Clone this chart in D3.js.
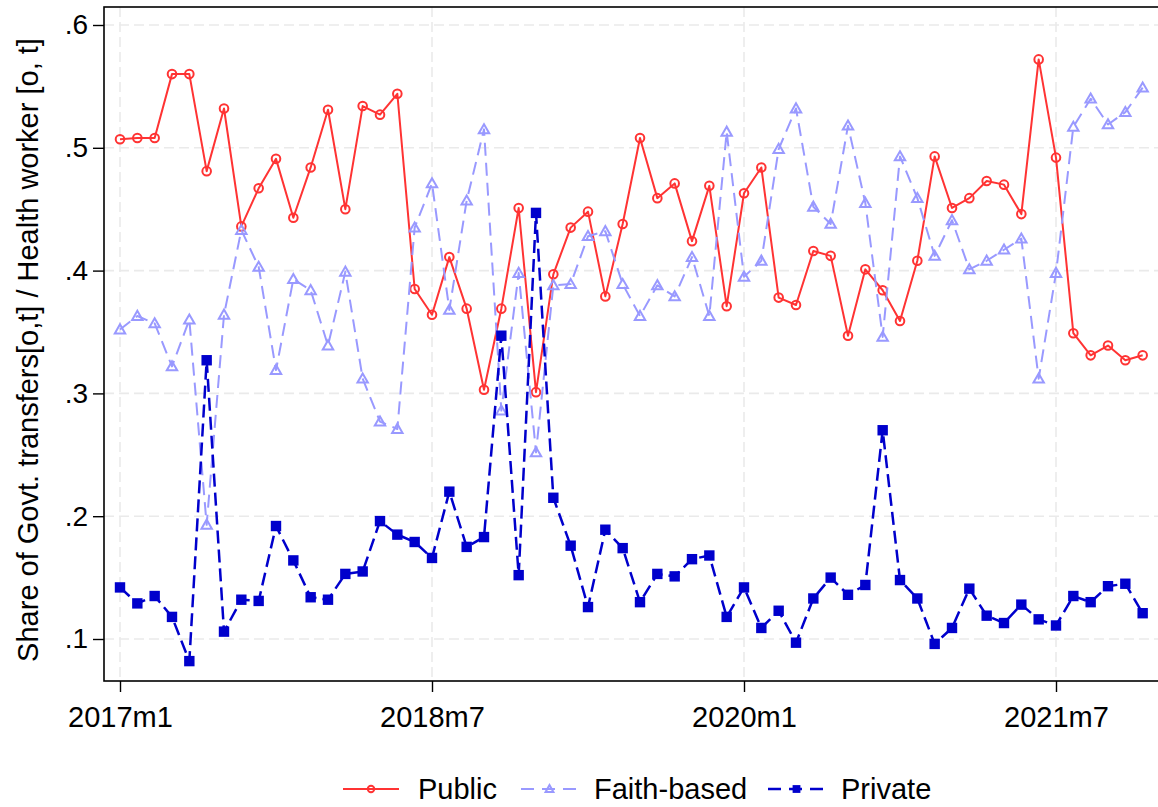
<!DOCTYPE html>
<html>
<head>
<meta charset="utf-8">
<script src="https://cdn.jsdelivr.net/npm/d3@7"></script>
<style>
  html, body { margin: 0; padding: 0; background: #fff; }
  svg { display: block; }
  text { font-family: "Liberation Sans", Arial, Helvetica, sans-serif; fill: #000; }
</style>
</head>
<body>
<svg id="chart" width="1158" height="807"></svg>
<script>
// ---- data ----
const monthIndex = d3.range(60); // 2017m1 .. 2021m12
const xTickIndex = [0, 18, 36, 54];
const xTickLabels = ["2017m1", "2018m7", "2020m1", "2021m7"];
const yTickValues = [0.1, 0.2, 0.3, 0.4, 0.5, 0.6];
const yTickLabels = [".1", ".2", ".3", ".4", ".5", ".6"];
const seriesNames = ["Public", "Faith-based", "Private"];

const publicVals = [0.507,0.508,0.508,0.560,0.560,0.481,0.532,0.436,0.467,0.491,
  0.443,0.484,0.531,0.450,0.534,0.527,0.544,0.385,0.364,0.411,
  0.369,0.303,0.369,0.451,0.301,0.397,0.435,0.448,0.379,0.438,
  0.508,0.459,0.471,0.424,0.469,0.371,0.463,0.484,0.378,0.372,
  0.416,0.412,0.347,0.401,0.384,0.359,0.408,0.493,0.451,0.459,
  0.473,0.470,0.446,0.572,0.492,0.349,0.331,0.339,0.327,0.331];

const faithVals = [0.352,0.363,0.357,0.322,0.360,0.193,0.364,0.433,0.403,0.319,
  0.393,0.384,0.339,0.399,0.312,0.277,0.271,0.435,0.471,0.368,
  0.457,0.515,0.286,0.398,0.252,0.388,0.389,0.428,0.432,0.389,
  0.363,0.388,0.379,0.411,0.363,0.513,0.395,0.408,0.499,0.532,
  0.452,0.438,0.518,0.455,0.346,0.493,0.459,0.412,0.441,0.401,
  0.408,0.417,0.426,0.312,0.398,0.517,0.540,0.519,0.529,0.549];

const privateVals = [0.142,0.129,0.135,0.118,0.082,0.327,0.106,0.132,0.131,0.192,
  0.164,0.134,0.132,0.153,0.155,0.196,0.185,0.179,0.166,0.220,
  0.175,0.183,0.347,0.152,0.447,0.215,0.176,0.126,0.189,0.174,
  0.130,0.153,0.151,0.165,0.168,0.118,0.142,0.109,0.123,0.097,
  0.133,0.150,0.136,0.144,0.270,0.148,0.133,0.096,0.109,0.141,
  0.119,0.113,0.128,0.116,0.111,0.135,0.130,0.143,0.145,0.121];

// ---- layout ----
const svg = d3.select("#chart");
const frame = { left: 104, top: 7, right: 1162, bottom: 681 };
const FONT = 29;
const YFONT = 28;

const x = d3.scaleLinear().domain([0, 18]).range([120, 432]);
const y = d3.scaleLinear().domain([0.1, 0.6]).range([639, 25]);

const styles = [
  { color: "#ff3333", dash: null, width: 2, marker: "circle" },
  { color: "#9999ff", dash: "13,7", width: 2, marker: "triangle" },
  { color: "#0000cc", dash: "13,6", width: 2.5, marker: "square" }
];
const allSeries = [publicVals, faithVals, privateVals];

// gridlines
const grid = svg.append("g");
grid.selectAll("line.hg").data(yTickValues).join("line")
  .attr("x1", frame.left).attr("x2", frame.right)
  .attr("y1", d => y(d)).attr("y2", d => y(d))
  .attr("stroke", "#eaeaea").attr("stroke-width", 1.6).attr("stroke-dasharray", "10,5");
grid.selectAll("line.vg").data(xTickIndex).join("line")
  .attr("y1", frame.top).attr("y2", frame.bottom)
  .attr("x1", d => x(d)).attr("x2", d => x(d))
  .attr("stroke", "#eaeaea").attr("stroke-width", 1.6).attr("stroke-dasharray", "10,5");

// frame
svg.append("rect")
  .attr("x", frame.left).attr("y", frame.top)
  .attr("width", frame.right - frame.left).attr("height", frame.bottom - frame.top)
  .attr("fill", "none").attr("stroke", "#000").attr("stroke-width", 1.6);

// axes
const yAxis = d3.axisLeft(y).tickValues(yTickValues)
  .tickFormat((d, i) => yTickLabels[i]).tickSize(11).tickPadding(5);
const gy = svg.append("g").attr("transform", `translate(${frame.left},0)`).call(yAxis);
gy.select(".domain").remove();
gy.selectAll(".tick line").attr("stroke", "#000").attr("stroke-width", 1.4);
gy.selectAll(".tick text").attr("font-size", YFONT).attr("font-family", "Liberation Sans, Arial, sans-serif").attr("fill", "#000");

const xAxis = d3.axisBottom(x).tickValues(xTickIndex)
  .tickFormat((d, i) => xTickLabels[i]).tickSize(11).tickPadding(14);
const gx = svg.append("g").attr("transform", `translate(0,${frame.bottom})`).call(xAxis);
gx.select(".domain").remove();
gx.selectAll(".tick line").attr("stroke", "#000").attr("stroke-width", 1.4);
gx.selectAll(".tick text").attr("font-size", FONT).attr("font-family", "Liberation Sans, Arial, sans-serif").attr("fill", "#000");

// y title
svg.append("text")
  .attr("transform", `translate(38,${(frame.top + frame.bottom) / 2 + 6}) rotate(-90)`)
  .attr("text-anchor", "middle")
  .attr("font-size", FONT)
  .text("Share of Govt. transfers[o,t] / Health worker [o, t]");

// marker drawer
function drawMarker(g, type, color, cx, cy, scale = 1) {
  if (type === "circle") {
    g.append("circle").attr("cx", cx).attr("cy", cy).attr("r", 4.3 * scale)
      .attr("fill", "none").attr("stroke", color).attr("stroke-width", 2);
  } else if (type === "triangle") {
    const s = 5.2 * scale;
    const p = [[cx, cy - s], [cx - s, cy + s * 0.75], [cx + s, cy + s * 0.75]];
    g.append("path").attr("d", "M" + p.map(q => q.join(",")).join("L") + "Z")
      .attr("fill", "none").attr("stroke", color).attr("stroke-width", 2);
  } else {
    const s = 5.2 * scale;
    g.append("rect").attr("x", cx - s).attr("y", cy - s).attr("width", 2 * s).attr("height", 2 * s)
      .attr("fill", color);
  }
}

// series
const line = d3.line().x((d, i) => x(monthIndex[i])).y(d => y(d));
allSeries.forEach((vals, si) => {
  const st = styles[si];
  const g = svg.append("g");
  g.append("path").datum(vals).attr("d", line)
    .attr("fill", "none").attr("stroke", st.color).attr("stroke-width", st.width)
    .attr("stroke-dasharray", st.dash).attr("stroke-linejoin", "round");
  vals.forEach((v, i) => drawMarker(g, st.marker, st.color, x(monthIndex[i]), y(v)));
});

// legend
const legendY = 789;
const legendItems = [
  { x0: 343, x1: 399, tx: 418 },
  { x0: 521, x1: 578, tx: 594 },
  { x0: 768, x1: 825, tx: 841 }
];
const lg = svg.append("g");
legendItems.forEach((it, i) => {
  const st = styles[i];
  const gi = lg.append("g");
  gi.append("line").attr("x1", it.x0).attr("x2", it.x1).attr("y1", legendY).attr("y2", legendY)
    .attr("stroke", st.color).attr("stroke-width", st.width)
    .attr("stroke-dasharray", st.dash ? "13,8" : null);
  drawMarker(gi, st.marker, st.color, (it.x0 + it.x1) / 2, legendY, 0.75);
  gi.append("text").attr("x", it.tx).attr("y", legendY).attr("dy", "0.36em")
    .attr("font-size", FONT).text(seriesNames[i]);
});
</script>
</body>
</html>
